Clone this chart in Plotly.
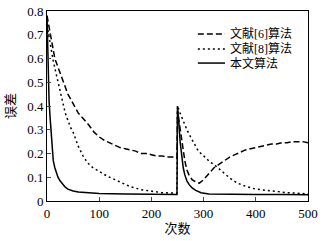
import plotly.graph_objects as go

# 本文算法
x_ours = [0, 1, 2, 3, 4, 6, 8, 10, 12, 15, 18, 21, 25, 30, 35, 40, 50, 60, 80, 100, 150, 200, 249,
          250, 251, 253, 255, 258, 261, 264, 268, 272, 278, 285, 295, 310, 350, 400, 450, 500]
y_ours = [0.78, 0.65, 0.52, 0.46, 0.42, 0.35, 0.29, 0.22, 0.17, 0.14, 0.115, 0.10, 0.085, 0.07, 0.058,
          0.05, 0.042, 0.038, 0.034, 0.032, 0.03, 0.028, 0.027,
          0.40, 0.38, 0.32, 0.25, 0.19, 0.14, 0.11, 0.085, 0.07, 0.055, 0.045, 0.035, 0.03, 0.028,
          0.027, 0.027, 0.026]

# 文献[6]算法
x_ref6 = [0, 3, 6, 10, 15, 20, 25, 30, 35, 40, 45, 50, 55, 60, 70, 80, 90, 100, 110, 120, 130, 140,
          150, 160, 170, 180, 190, 200, 210, 220, 230, 240, 249,
          250, 253, 256, 260, 264, 268, 272, 278, 285, 292, 300, 310, 320, 330, 340, 350, 360, 370,
          380, 390, 400, 410, 420, 430, 440, 450, 460, 470, 480, 490, 500]
y_ref6 = [0.78, 0.74, 0.71, 0.66, 0.60, 0.57, 0.54, 0.51, 0.48, 0.45, 0.43, 0.41, 0.39, 0.37, 0.345,
          0.32, 0.29, 0.27, 0.255, 0.245, 0.235, 0.225, 0.22, 0.215, 0.21, 0.20, 0.20, 0.195, 0.19,
          0.19, 0.185, 0.185, 0.18,
          0.38, 0.33, 0.28, 0.22, 0.17, 0.13, 0.11, 0.09, 0.08, 0.075, 0.09, 0.115, 0.14, 0.155,
          0.17, 0.185, 0.195, 0.205, 0.215, 0.22, 0.225, 0.23, 0.235, 0.24, 0.24, 0.245, 0.245,
          0.25, 0.25, 0.25, 0.245]

# 文献[8]算法
x_ref8 = [0, 3, 6, 9, 12, 16, 21, 26, 31, 35, 40, 45, 50, 55, 60, 69, 78, 88, 100, 115, 130, 140,
          150, 160, 180, 200, 220, 249,
          250, 255, 260, 268, 275, 282, 290, 300, 312, 322, 332, 342, 351, 365, 383, 400, 427, 460, 500]
y_ref8 = [0.74, 0.70, 0.66, 0.62, 0.59, 0.55, 0.50, 0.45, 0.40, 0.37, 0.34, 0.31, 0.29, 0.26, 0.23,
          0.19, 0.16, 0.14, 0.125, 0.105, 0.09, 0.08, 0.07, 0.06, 0.048, 0.04, 0.035, 0.033,
          0.40, 0.37, 0.34, 0.30, 0.27, 0.24, 0.21, 0.19, 0.165, 0.15, 0.13, 0.11, 0.095, 0.075,
          0.06, 0.05, 0.042, 0.035, 0.03]

x_ticks = [0, 100, 200, 300, 400, 500]
y_ticks = [0, 0.1, 0.2, 0.3, 0.4, 0.5, 0.6, 0.7, 0.8]
y_ticklabels = ["0", "0.1", "0.2", "0.3", "0.4", "0.5", "0.6", "0.7", "0.8"]

series_names = ["文献[6]算法", "文献[8]算法", "本文算法"]
series_dash = ["6px,3px", "2px,3px", "solid"]

serif = "Liberation Serif, Times New Roman, DejaVu Serif, serif"
mixed = "Liberation Serif, Noto Sans CJK SC"
cjk = "Noto Sans CJK SC"

fig = go.Figure()
for xs, ys, name, dash in zip([x_ref6, x_ref8, x_ours], [y_ref6, y_ref8, y_ours],
                              series_names, series_dash):
    fig.add_trace(go.Scatter(x=xs, y=ys, mode="lines", name=name, showlegend=False,
                             hoverinfo="skip",
                             line=dict(color="black", width=1.5, dash=dash)))

# manual legend (compact row spacing like the reference)
leg_y = [0.879, 0.80, 0.726]
for name, dash, ly in zip(series_names, series_dash, leg_y):
    fig.add_shape(type="line", xref="paper", yref="paper", x0=0.578, x1=0.682, y0=ly, y1=ly,
                  line=dict(color="black", width=1.5, dash=dash))
    fig.add_annotation(xref="paper", yref="paper", x=0.695, y=ly, xanchor="left", yanchor="middle",
                       text=name, showarrow=False, font=dict(size=12, family=mixed, color="black"))

fig.update_layout(
    width=323, height=241,
    margin=dict(l=47, r=15, t=11, b=40),
    paper_bgcolor="white", plot_bgcolor="white",
    font=dict(family=mixed, size=13, color="black"),
    showlegend=False,
    xaxis=dict(range=[0, 500], tickvals=x_ticks, ticks="inside", ticklen=4,
               tickfont=dict(family=serif, size=13, color="black"),
               showline=True, linecolor="black", linewidth=1, mirror=True,
               showgrid=False, zeroline=False, automargin=False,
               title=dict(text="次数", font=dict(size=13, family=cjk), standoff=4)),
    yaxis=dict(range=[0, 0.8], tickvals=y_ticks, ticktext=y_ticklabels, ticks="inside", ticklen=4,
               tickfont=dict(family=serif, size=13, color="black"),
               showline=True, linecolor="black", linewidth=1, mirror=True,
               showgrid=False, zeroline=False, automargin=False,
               title=dict(text="误差", font=dict(size=13, family=cjk), standoff=8)),
)
fig.write_html("out.html", config={"displayModeBar": False, "staticPlot": True},
               post_script="document.body.style.margin='0';document.body.style.padding='0';")
